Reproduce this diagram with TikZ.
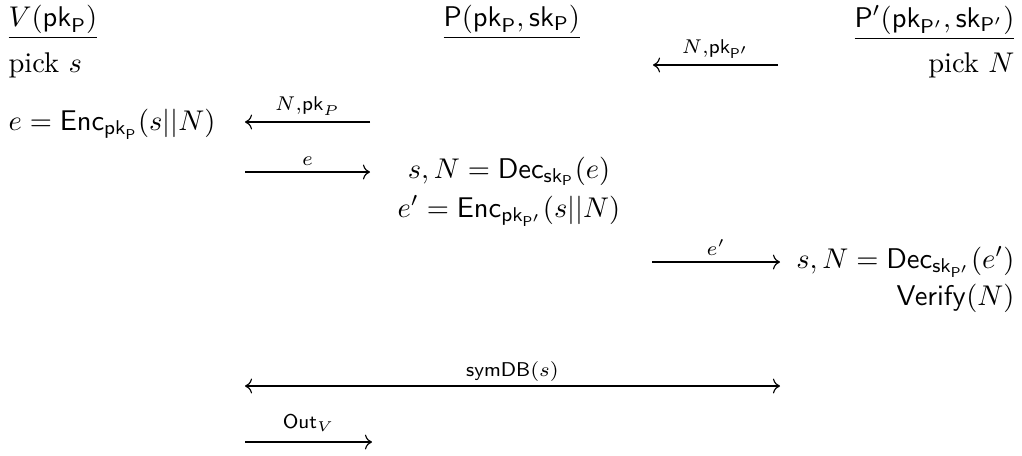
\documentclass[tikz,border=0pt]{standalone}
\usepackage{amsmath,amssymb}
\usepackage{tikz}
\usetikzlibrary{arrows.meta,positioning}

\begin{document}
\begin{tikzpicture}[
  x=0.3509pt, y=-0.3509pt,
  lft/.style={inner sep=0pt, anchor=base west},
  rgt/.style={inner sep=0pt, anchor=base east},
  mid/.style={inner sep=0pt, anchor=base},
  msg/.style={-{Computer Modern Rightarrow}, line width=0.4pt},
  both/.style={{Computer Modern Rightarrow}-{Computer Modern Rightarrow}, line width=0.4pt},
  lbl/.style={above=2pt, inner sep=0pt, font=\scriptsize}
]
  \useasboundingbox (0,0) rectangle (1022,455);

  % parties
  \node[lft] (verifier) at (8,26) {$\underline{V(\mathsf{pk}_\mathsf{P})}$};
  \node[lft] (prover) at (443,26) {$\underline{\mathsf{P}(\mathsf{pk}_\mathsf{P},\mathsf{sk}_\mathsf{P})}$};
  \node[rgt] (proxy) at (1015,27) {$\underline{\mathsf{P}'(\mathsf{pk}_{\mathsf{P}'},\mathsf{sk}_{\mathsf{P}'})}$};

  % steps
  \node[lft] (picks) at (8,72) {pick $s$};
  \node[rgt] (pickn) at (1015,72) {pick $N$};
  \node[lft] (encv) at (8,130) {$e = \mathsf{Enc}_{\mathsf{pk}_\mathsf{P}}(s||N)$};
  \node[mid] (decp) at (509,178) {$s,N = \mathsf{Dec}_{\mathsf{sk}_\mathsf{P}}(e)$};
  \node[mid] (encp) at (509,217) {$e' = \mathsf{Enc}_{\mathsf{pk}_{\mathsf{P}'}}(s||N)$};
  \node[rgt] (decq) at (1015,268) {$s,N = \mathsf{Dec}_{\mathsf{sk}_{\mathsf{P}'}}(e')$};
  \node[rgt] (verify) at (1015,305) {$\mathsf{Verify}(N)$};

  % message ends
  \coordinate (m1a) at (778,65);  \coordinate (m1b) at (653,65);
  \coordinate (m2a) at (370,122); \coordinate (m2b) at (245,122);
  \coordinate (m3a) at (245,172); \coordinate (m3b) at (370,172);
  \coordinate (m4a) at (652,262); \coordinate (m4b) at (780,262);
  \coordinate (m5a) at (245,386); \coordinate (m5b) at (780,386);
  \coordinate (m6a) at (245,442); \coordinate (m6b) at (372,442);

  \draw[msg] (m1a) -- node[lbl] {$N{,}\mathsf{pk}_{\mathsf{P}'}$} (m1b);
  \draw[msg] (m2a) -- node[lbl] {$N{,}\mathsf{pk}_P$} (m2b);
  \draw[msg] (m3a) -- node[lbl] {$e$} (m3b);
  \draw[msg] (m4a) -- node[lbl] {$e'$} (m4b);
  \draw[both] (m5a) -- node[lbl, above=1.5pt] {$\mathsf{symDB}(s)$} (m5b);
  \draw[msg] (m6a) -- node[lbl, above=3.5pt] {$\mathsf{Out}_V$} (m6b);
\end{tikzpicture}
\end{document}
